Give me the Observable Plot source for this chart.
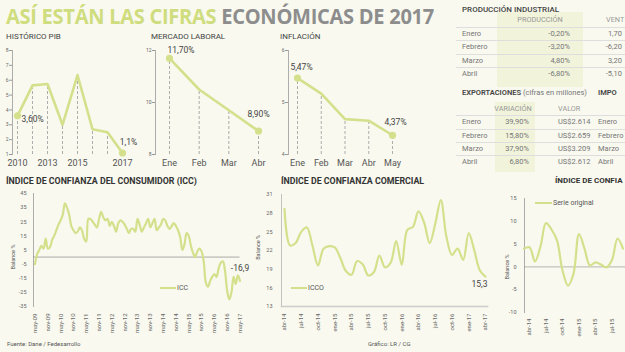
<!DOCTYPE html>
<html><head><meta charset="utf-8">
<script src="https://cdn.jsdelivr.net/npm/d3@7"></script>
<script src="https://cdn.jsdelivr.net/npm/@observablehq/plot@0.6"></script>
<style>
html,body{margin:0;padding:0;background:#f9f9ef;}
#root{position:relative;width:625px;height:352px;overflow:hidden;background:#f9f9ef;font-family:Roboto,"Open Sans",sans-serif;color:#555;}
.a{position:absolute;white-space:nowrap;line-height:1;transform:translateY(-50%);}
.p{position:absolute;}
</style></head><body><div id="root"></div>
<script>
// ---------- DATA ----------
const pibValues = [3.6, 5.65, 5.75, 3.0, 6.35, 2.7, 2.5, 1.1];
const pibTickIdx = [0, 2, 4, 7];
const pibTickLabels = ["2010", "2013", "2015", "2017"];

const laborMonths = ["Ene", "Feb", "Mar", "Abr"];
const laborValues = [11.7, 10.5, 9.7, 8.9];

const inflMonths = ["Ene", "Feb", "Mar", "Abr", "May"];
const inflValues = [5.47, 5.17, 4.68, 4.65, 4.37];

const prodMonths = ["Enero", "Febrero", "Marzo", "Abril"];
const prodProduccion = ["-0,20%", "-3,20%", "4,80%", "-6,80%"];
const prodVentas = ["1,70", "-6,20", "3,20", "-5,10"];   // visible part (cut at the picture's edge)
const expVariacion = ["39,90%", "15,80%", "37,90%", "6,80%"];
const expValor = ["US$2.614", "US$2.659", "US$3.209", "US$2.612"];

// ICC monthly, may-09 .. may-17
const iccValues = [
 -5, 2, 5, 8, 6, 13, 6, 7, 12, 15,
 19, 23, 26, 30, 38, 35, 30, 22, 19, 17,
 18, 21, 19, 13, 11, 27, 27, 25, 23, 21,
 27, 32, 28, 26, 27, 22, 25, 22, 18, 24,
 26, 25, 23, 20, 17, 20, 20, 18, 27, 23,
 18, 21, 24, 27, 21, 24, 27, 19, 21, 23,
 27, 26, 22, 20, 22, 24, 22, 19, 14, 5,
 9, 17, 15, 8, 3, 0, 4, 6, 4, -3,
 -18, -21, -17, -14, -12, -14, -8, -4, -3, -10,
 -24, -30, -25, -14, -19, -13, -16.9
];
const iccTickLabels = ["may-09","nov-09","may-10","nov-10","may-11","nov-11","may-12","nov-12","may-13","nov-13","may-14","nov-14","may-15","nov-15","may-16","nov-16","may-17"];

// ICCO monthly, abr-14 .. abr-17
const iccoValues = [
 28.7, 22.8, 23.2, 25, 25.7, 22.8, 19.6, 22.3, 22.7, 22.5,
 20.8, 18.7, 18.1, 20.3, 19.8, 18, 18.5, 21.2, 19.3, 20.0,
 23.5, 19.7, 25.3, 25.8, 28.3, 26.5, 23.2, 26.3, 30.1, 24.2,
 21.3, 22.3, 20.5, 24.8, 22, 18.8, 17.8
];
const iccoTickLabels = ["abr-14","jul-14","oct-14","ene-15","abr-15","jul-15","oct-15","ene-16","abr-16","jul-16","oct-16","ene-17","abr-17"];

// Industrial confidence (serie original), mar-14 .. ago-15
const indValues = [4, 4.3, 1.2, 4.5, 9.6, 8.2, 5.8, -0.8, -4.1, -1.5, 7.2, 4.0, 0.3, 1.0, 0.5, -0.1, 1.5, 6.2, 4.0];
const indTickLabels = ["abr-14","jul-14","oct-14","ene-15","abr-15","jul-15"];

// ---------- STYLE ----------
const LINE = "#d5e08c";
const FONT = "Roboto, 'Open Sans', sans-serif";
const root = document.getElementById("root");
const fmt = d => String(d);

function place(el, left, top) {
  const d = document.createElement("div");
  d.className = "p"; d.style.left = left + "px"; d.style.top = top + "px";
  d.appendChild(el); root.appendChild(d); return d;
}
function txt(left, cy, html, css) {
  const d = document.createElement("div");
  d.className = "a"; d.style.left = left + "px"; d.style.top = cy + "px";
  d.innerHTML = html; Object.assign(d.style, css || {});
  root.appendChild(d); return d;
}
function box(left, top, w, h, bg) {
  const d = document.createElement("div");
  Object.assign(d.style, {position:"absolute", left:left+"px", top:top+"px", width:w+"px", height:h+"px", background:bg});
  root.appendChild(d); return d;
}
const baseStyle = {background:"transparent", fontFamily:FONT, color:"#666", overflow:"visible"};

// ---------- TITLE ----------
const title = txt(6, 16, '<span style="color:#cfdd7e">ASÍ ESTÁN LAS CIFRAS</span> <span style="color:#8d8d8d">ECONÓMICAS DE 2017</span>',
  {fontFamily:"'Open Sans',sans-serif", fontWeight:"700", fontSize:"21px", letterSpacing:"-0.3px"});
{
  const w = title.getBoundingClientRect().width;
  title.style.transformOrigin = "left center";
  title.style.transform = `translateY(-50%) scaleX(${428 / w})`;
}

// ---------- TOP SMALL CHARTS ----------
function smallChart({values, left, width, ml, xRange, yDomain, yTicks, xTicks, xFormat, labels}) {
  const data = values.map((v, i) => ({i, v}));
  const ends = [data[0], data[data.length - 1]];
  const p = Plot.plot({
    width, height: 132, marginLeft: ml, marginTop: 10, marginBottom: 18, marginRight: 0,
    style: baseStyle,
    x: {domain: [0, values.length - 1], range: xRange},
    y: {domain: yDomain},
    marks: [
      Plot.frame({anchor: "left", stroke: "#999", strokeWidth: 0.8}),
      Plot.axisY({ticks: yTicks, tickFormat: fmt, tickSize: 3, tickPadding: 1, fontSize: 5, stroke: "#999", label: null}),
      Plot.axisX({ticks: xTicks, tickFormat: xFormat, tickSize: 0, tickPadding: 5, fontSize: 9, fill: "#555", label: null}),
      Plot.ruleX(data, {x: "i", y1: () => yDomain[0], y2: "v", stroke: "#999", strokeWidth: 0.8, strokeDasharray: "3,2"}),
      Plot.line(data, {x: "i", y: "v", stroke: LINE, strokeWidth: 2.6}),
      Plot.dot(ends, {x: "i", y: "v", r: 3.6, fill: LINE}),
      ...labels.map(l => Plot.text([data[l.idx]], {x: "i", y: "v", text: () => l.text, dx: l.dx, dy: l.dy, textAnchor: l.anchor || "middle", fontSize: 8.5, fill: "#444"}))
    ]
  });
  place(p, left, 40);
}

smallChart({values: pibValues, left: 0, width: 140, ml: 12, xRange: [17, 122], yDomain: [1, 8], yTicks: [1,2,3,4,5,6,7,8],
  xTicks: pibTickIdx, xFormat: i => pibTickLabels[pibTickIdx.indexOf(i)],
  labels: [{idx: 0, text: "3,60%", dx: 4, dy: 3, anchor: "start"}, {idx: 7, text: "1,1%", dx: 6, dy: -11}]});
smallChart({values: laborValues, left: 140, width: 135, ml: 15, xRange: [29, 118], yDomain: [8, 12], yTicks: [8, 10, 12],
  xTicks: [0,1,2,3], xFormat: i => laborMonths[i],
  labels: [{idx: 0, text: "11,70%", dx: -2, dy: -8, anchor: "start"}, {idx: 3, text: "8,90%", dx: 0, dy: -17}]});
smallChart({values: inflValues, left: 275, width: 180, ml: 13, xRange: [22, 117], yDomain: [4, 6], yTicks: [4, 5, 6],
  xTicks: [0,1,2,3,4], xFormat: i => inflMonths[i],
  labels: [{idx: 0, text: "5,47%", dx: 4, dy: -11}, {idx: 4, text: "4,37%", dx: 3, dy: -13}]});

txt(6, 36.5, "HISTÓRICO PIB", {fontSize: "8px", color: "#444"});
txt(151, 36.5, "MERCADO LABORAL", {fontSize: "8px", color: "#444"});
txt(280, 36.5, "INFLACIÓN", {fontSize: "8px", color: "#444"});

// ---------- TABLES ----------
box(497, 12, 86, 75, "#f1f3db");
box(495, 102, 40, 70, "#f1f3db");
txt(462, 9.5, "PRODUCCIÓN INDUSTRIAL", {fontSize: "8px", color: "#444", fontWeight: "500"});
txt(540, 20, "PRODUCCIÓN", {fontSize: "7.3px", color: "#999", transform: "translate(-50%,-50%)"});
txt(606, 20, "VENT", {fontSize: "7.3px", color: "#999"});
const prodY = [33.5, 47, 60.5, 74];
[27, 40, 54, 67].forEach(y => box(456, y, 170, 0.7, "#dedede"));
prodMonths.forEach((m, k) => {
  txt(462, prodY[k], m, {fontSize: "7.5px", color: "#777"});
  txt(0, prodY[k], prodProduccion[k], {fontSize: "7.5px", color: "#777", left: "auto", right: (625 - 570) + "px"});
  txt(0, prodY[k], prodVentas[k], {fontSize: "7.5px", color: "#777", left: "auto", right: "3px"});
});
txt(462, 92.5, '<b style="font-weight:600;color:#444">EXPORTACIONES</b> (cifras en millones)', {fontSize: "7.5px", color: "#777"});
txt(598, 92.5, '<b style="font-weight:600;color:#444">IMPO</b>', {fontSize: "7.5px"});
txt(513, 108.5, "VARIACIÓN", {fontSize: "7.3px", color: "#999", transform: "translate(-50%,-50%)"});
txt(558, 108.5, "VALOR", {fontSize: "7.3px", color: "#999"});
const expY = [122, 135.5, 148.5, 162];
[115, 128.5, 142, 155].forEach(y => box(456, y, 170, 0.7, "#dedede"));
prodMonths.forEach((m, k) => {
  txt(462, expY[k], m, {fontSize: "7.5px", color: "#777"});
  txt(0, expY[k], expVariacion[k], {fontSize: "7.5px", color: "#777", left: "auto", right: (625 - 529) + "px"});
  txt(558, expY[k], expValor[k], {fontSize: "7.5px", color: "#777"});
  txt(598, expY[k], m, {fontSize: "7.5px", color: "#777"});
});

// ---------- ICC ----------
{
  const data = iccValues.map((v, i) => ({i, v}));
  const ticks = iccTickLabels.map((_, k) => k * 6);
  const p = Plot.plot({
    width: 255, height: 150, marginLeft: 33, marginTop: 8, marginBottom: 29, marginRight: 0,
    style: baseStyle,
    x: {domain: [0, 96], range: [34.5, 239.5]},
    y: {domain: [-35, 45]},
    marks: [
      Plot.frame({anchor: "left", stroke: "#999", strokeWidth: 0.8}),
      Plot.ruleY([{y: 0, a: -0.7, b: 96}], {y: "y", x1: "a", x2: "b", stroke: "#888", strokeWidth: 0.7}),
      Plot.axisY({ticks: [-35,-25,-15,-5,5,15,25,35,45], tickFormat: fmt, tickSize: 0, tickPadding: 7, fontSize: 5.5, label: null}),
      Plot.axisX({ticks, tickFormat: i => iccTickLabels[i / 6], tickRotate: -90, tickSize: 0, tickPadding: 7, fontSize: 6, label: null}),
      Plot.text([{x: -10, y: 0}], {x: "x", y: "y", text: () => "Balance %", rotate: -90, fontSize: 5.5, fill: "#555"}),
      Plot.line(data, {x: "i", y: "v", stroke: LINE, strokeWidth: 2.2, curve: "catmull-rom"}),
      Plot.text([data[96]], {x: "i", y: "v", text: () => "-16,9", dx: 0, dy: -13, fontSize: 8.5, fill: "#444"})
    ]
  });
  place(p, 0, 185);
}
txt(6, 181, "ÍNDICE DE CONFIANZA DEL CONSUMIDOR (ICC)", {fontSize: "8.8px", fontWeight: "700", color: "#333"});
box(160, 286.5, 16, 2, LINE);
txt(177, 287.5, "ICC", {fontSize: "7px", color: "#555"});

// ---------- ICCO ----------
{
  const data = iccoValues.map((v, i) => ({i, v}));
  const ticks = iccoTickLabels.map((_, k) => k * 3);
  const p = Plot.plot({
    width: 235, height: 150, marginLeft: 26, marginTop: 9, marginBottom: 29, marginRight: 3,
    style: baseStyle,
    x: {domain: [0, 36], range: [29, 230]},
    y: {domain: [13, 31]},
    marks: [
      Plot.frame({anchor: "left", stroke: "#aaa", strokeWidth: 0.7}),
      Plot.frame({anchor: "bottom", stroke: "#ccc", strokeWidth: 1.6}),
      Plot.axisY({ticks: [13,16,19,22,25,28,31], tickFormat: fmt, tickSize: 0, tickPadding: 9, fontSize: 5.5, label: null}),
      Plot.axisX({ticks, tickFormat: i => iccoTickLabels[i / 3], tickRotate: -90, tickSize: 0, tickPadding: 7, fontSize: 6, label: null}),
      Plot.text([{x: -4.7, y: 22.5}], {x: "x", y: "y", text: () => "Balance %", rotate: -90, fontSize: 5.5, fill: "#555"}),
      Plot.line(data, {x: "i", y: "v", stroke: LINE, strokeWidth: 2.2, curve: "catmull-rom"}),
      Plot.text([data[36]], {x: "i", y: "v", text: () => "15,3", dx: -6, dy: 8, fontSize: 8.5, fill: "#444"})
    ]
  });
  place(p, 255, 185);
}
txt(281, 181, "ÍNDICE DE CONFIANZA COMERCIAL", {fontSize: "8.8px", fontWeight: "700", color: "#333"});
box(291, 286.5, 16, 2, LINE);
txt(308, 287.5, "ICCO", {fontSize: "7px", color: "#555"});

// ---------- INDUSTRIAL ----------
{
  const data = indValues.map((v, k) => ({i: k - 1, v}));
  const ticks = indTickLabels.map((_, k) => k * 3);
  const p = Plot.plot({
    width: 135, height: 155, marginLeft: 34, marginTop: 13, marginBottom: 28, marginRight: 0,
    style: baseStyle,
    x: {domain: [-1, 17], range: [33.5, 132.5]},
    y: {domain: [-10, 15]},
    marks: [
      Plot.frame({anchor: "left", stroke: "#999", strokeWidth: 0.8}),
      Plot.ruleY([0], {stroke: "#999", strokeWidth: 0.7}),
      Plot.axisY({ticks: [-10,-5,0,5,10,15], tickFormat: fmt, tickSize: 0, tickPadding: 8, fontSize: 5.5, label: null}),
      Plot.axisX({ticks, tickFormat: i => indTickLabels[i / 3], tickRotate: -90, tickSize: 0, tickPadding: 6, fontSize: 6, label: null}),
      Plot.text([{x: -4.1, y: 0}], {x: "x", y: "y", text: () => "Balance %", rotate: -90, fontSize: 5.5, fill: "#555"}),
      Plot.line(data, {x: "i", y: "v", stroke: LINE, strokeWidth: 2.2, curve: "catmull-rom"})
    ]
  });
  place(p, 490, 185);
}
txt(555, 181, "ÍNDICE DE CONFIA", {fontSize: "8px", fontWeight: "700", color: "#333"});
box(535, 201.5, 17, 2, LINE);
txt(553, 202.5, "Serie original", {fontSize: "7px", color: "#555"});

// ---------- FOOTER ----------
txt(7, 344, "Fuente: Dane / Fedesarrollo", {fontSize: "6px", color: "#555"});
txt(368, 344, "Gráfico: LR / CG", {fontSize: "6px", color: "#555"});
</script></body></html>
